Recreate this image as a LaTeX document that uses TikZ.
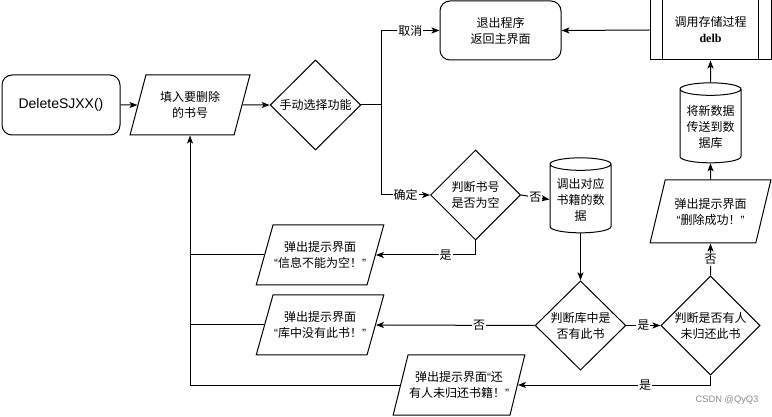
\documentclass[tikz,border=0pt]{standalone}
\usepackage{fontspec}
\setmainfont{Noto Sans CJK SC}
\newfontfamily\latinsans{Liberation Sans}
\newfontfamily\latinserif{Liberation Serif}
\usetikzlibrary{shapes.geometric,arrows.meta}

\newcommand\openq{{\latinsans “}}
\newcommand\closeq{{\latinsans ”}}

\tikzset{every picture/.style={line width=0.75pt}}
\tikzset{
  flow/.style={-{Stealth[length=6pt,width=4.5pt,inset=1.5pt]}},
  box/.style={draw, align=center, inner sep=0.75pt, font=\fontsize{9pt}{12pt}\selectfont},
  termbox/.style={box, rectangle, rounded corners=7.5pt},
  procbox/.style={box, rectangle},
  iobox/.style={box, trapezium, trapezium stretches=true, trapezium left angle=#1, trapezium right angle=180-#1},
  decision/.style={box, diamond, inner sep=0pt},
  dbbox/.style={box, cylinder, shape border rotate=90, aspect=0.25},
  lbl/.style={fill=white, inner sep=0.75pt, font=\fontsize{9pt}{12pt}\selectfont}
}

\begin{document}
\begin{tikzpicture}[x=0.75pt,y=0.75pt,yscale=-1,xscale=1]
        \useasboundingbox (0,0) rectangle (772,417);

        % Start
        \node [termbox, minimum width=88.5pt, minimum height=45pt, font=\latinsans\fontsize{10.5pt}{12pt}\selectfont] (start) at (61,105) {DeleteSJXX()};
        % Input of book number
        \node [iobox=69, minimum width=90pt, minimum height=45pt] (input) at (190,105) {填入要删除\\的书号};
        % Choose function
        \node [decision, minimum width=68pt, minimum height=67.5pt] (choose) at (315.5,105) {手动选择功能};
        % Exit
        \node [termbox, minimum width=90.75pt, minimum height=44.25pt] (quit) at (500.5,30.5) {退出程序\\返回主界面};
        % Stored procedure
        \node [procbox, minimum width=90.75pt, minimum height=45pt] (callproc) at (710.5,30) {调用存储过程\\{\latinserif\bfseries delb}};
        \draw ([xshift=9.75pt]callproc.north west) -- ([xshift=9.75pt]callproc.south west);
        \draw ([xshift=-9.75pt]callproc.north east) -- ([xshift=-9.75pt]callproc.south east);
        % Database update
        \node [dbbox, minimum width=45.75pt, minimum height=60pt] (update) at (710.5,127) {将新数据\\传送到数\\据库};
        % Success message
        \node [iobox=67, minimum width=90.75pt, minimum height=47.25pt] (okmsg) at (710.5,211.5) {弹出提示界面\\\openq 删除成功！\closeq};
        % Empty check
        \node [decision, minimum width=67.5pt, minimum height=67.5pt] (isempty) at (475.5,195) {判断书号\\是否为空};
        % Fetch data
        \node [dbbox, minimum width=45.75pt, minimum height=56.25pt] (fetch) at (580.5,199.5) {调出对应\\书籍的数\\据};
        % Book exists
        \node [decision, minimum width=68pt, minimum height=67pt] (hasbook) at (580.5,325.5) {判断库中是\\否有此书};
        % Book lent out
        \node [decision, minimum width=68pt, minimum height=67pt] (unreturned) at (710.5,325.5) {判断是否有人\\未归还此书};
        % Error messages
        \node [iobox=60, minimum width=90pt, minimum height=45pt] (emptymsg) at (320,255) {弹出提示界面\\\openq 信息不能为空！\closeq};
        \node [iobox=60, minimum width=90pt, minimum height=45pt] (nobookmsg) at (320,325) {弹出提示界面\\\openq 库中没有此书！\closeq};
        \node [iobox=63, minimum width=88.5pt, minimum height=45pt] (lentmsg) at (459,385) {弹出提示界面\openq 还\\有人未归还书籍！\closeq};

        % Watermark
        \node [font=\latinsans\fontsize{7pt}{8pt}\selectfont, text=black!45] (mark) at (727,400) {CSDN @QyQ3};

        % Connectors
        \coordinate (split) at (381,105);
        \draw [flow] (start.east) -- (input.west);
        \draw [flow] (input.east) -- (choose.west);
        \draw (choose.east) -- (split);
        \draw [flow] (split) |- node [lbl, pos=0.75] {取消} (quit.west);
        \draw [flow] (split) |- node [lbl, pos=0.75] {确定} (isempty.west);
        \draw [flow] (isempty.east) -- node [lbl] {否} (fetch.west);
        \draw [flow] (isempty.south) |- node [lbl, pos=0.65] {是} (emptymsg.east);
        \draw [flow] (fetch.south) -- (hasbook.north);
        \draw [flow] (hasbook.west) -- node [lbl, pos=0.35] {否} (nobookmsg.east);
        \draw [flow] (hasbook.east) -- node [lbl] {是} (unreturned.west);
        \draw [flow] (unreturned.north) -- node [lbl] {否} (okmsg.south);
        \draw [flow] (okmsg.north) -- (update.south);
        \draw [flow] (update.north) -- (callproc.south);
        \draw [flow] (callproc.west) -- (quit.east);
        \draw [flow] (unreturned.south) |- node [lbl, pos=0.67] {是} (lentmsg.east);
        \draw (emptymsg.west) -- (emptymsg.west -| input.south);
        \draw (nobookmsg.west) -- (nobookmsg.west -| input.south);
        \draw [flow] (lentmsg.west) -| (input.south);

\end{tikzpicture}
\end{document}
